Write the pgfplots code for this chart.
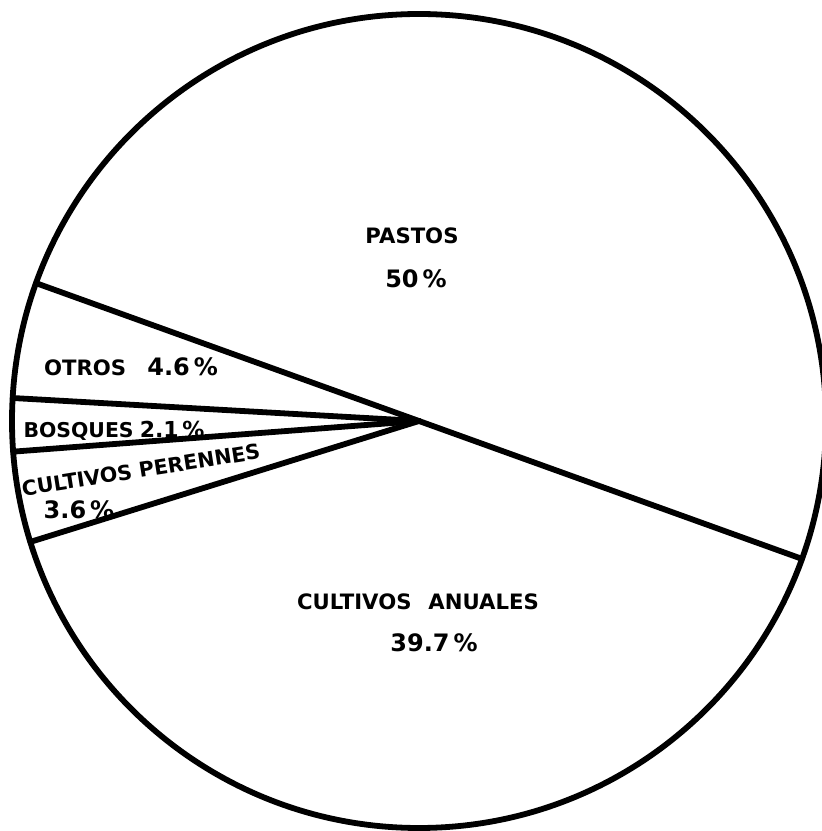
\documentclass[border=0pt]{standalone}
\usepackage{fontspec}
\setmainfont{DejaVu Sans}
\usepackage{pgfplots}
\pgfplotsset{compat=1.18}

% Land use shares, in percent, counterclockwise from the first boundary
\def\pieStart{-19.8}
\def\pieR{407}
\newcommand{\pct}[2][12]{{\fontsize{#1}{14}\selectfont #2\,\%}}

\begin{document}
\begin{tikzpicture}
\begin{axis}[
  scale only axis,
  width=411pt, height=415.5pt,
  xmin=-419, xmax=403, ymin=-410, ymax=421,
  hide axis, clip=true,
]
\path (axis cs:-419,-410) rectangle (axis cs:403,421);
% outer rim
\draw[line width=2.9pt] (axis cs:0,0) circle[radius=203.5pt];
% slice boundaries: Pastos, Otros, Bosques, Cultivos perennes, Cultivos anuales
\foreach \p [evaluate=\p as \a using \prev+3.6*\p, remember=\a as \prev (initially \pieStart)]
    in {50,4.6,2.1,3.6,39.7} {
  \edef\temp{\noexpand\addplot[black, mark=none, line width=2.9pt, line cap=round,
      data cs=polar] coordinates {(0,0) (\prev,\pieR)};}
  \temp
}
\tikzset{lbl/.style={font=\bfseries\fontsize{10.6}{12}\selectfont, inner sep=0pt}}
\node[lbl] at (axis cs:-7,185) {PASTOS};
\node[lbl] at (axis cs:-3,142) {\pct{50}};
\node[lbl] at (axis cs:-1,-181) {CULTIVOS\hspace{0.8em}ANUALES};
\node[lbl] at (axis cs:15,-222) {\pct{39.7}};
\node[lbl] at (axis cs:-288,54) {OTROS\hspace{1em}\pct{4.6}};
\node[lbl, font=\bfseries\fontsize{10.2}{12}\selectfont] at (axis cs:-305,-10)
  {BOSQUES\hspace{0.3em}\pct[11]{2.1}};
\node[lbl, rotate=9, font=\bfseries\fontsize{10.3}{12}\selectfont] at (axis cs:-278,-49)
  {CULTIVOS PERENNES};
\node[lbl] at (axis cs:-340,-89) {\pct{3.6}};
\end{axis}
\end{tikzpicture}
\end{document}
